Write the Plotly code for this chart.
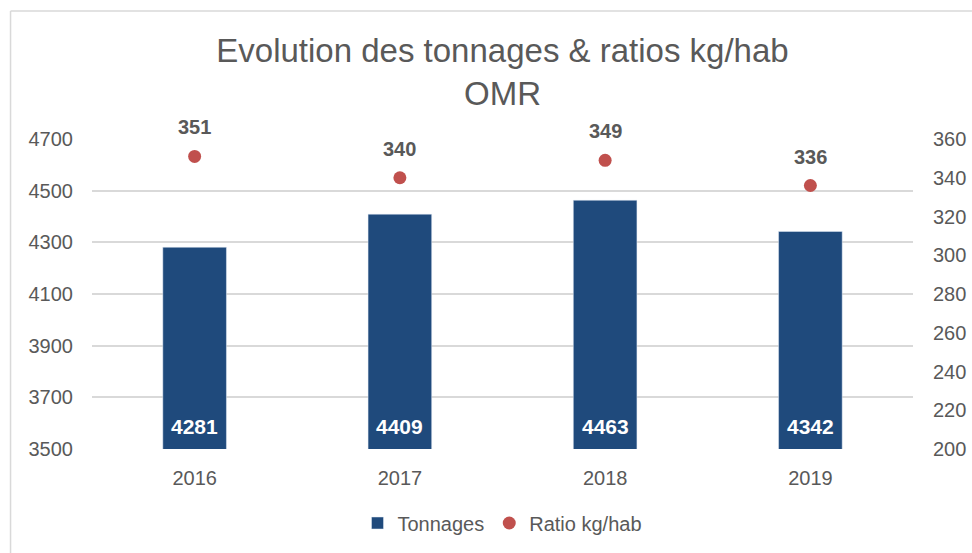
import plotly.graph_objects as go

years = ["2016", "2017", "2018", "2019"]
tonnages = [4281, 4409, 4463, 4342]
ratios = [351, 340, 349, 336]
left_ticks = [3500, 3700, 3900, 4100, 4300, 4500, 4700]
right_ticks = [200, 220, 240, 260, 280, 300, 320, 340, 360]

FONT = "Liberation Sans, Arial, sans-serif"
GRAY = "#595959"
BAR = "#1F4A7C"
DOT = "#C0504D"

xpos = list(range(len(years)))

fig = go.Figure()
fig.add_trace(go.Bar(x=xpos, y=tonnages, name="Tonnages", marker_color=BAR,
                     width=0.31, yaxis="y"))
fig.add_trace(go.Scatter(x=xpos, y=ratios, name="Ratio kg/hab", mode="markers",
                         marker=dict(color=DOT, size=13), yaxis="y2"))

annotations = []
for i, t in zip(xpos, tonnages):
    annotations.append(dict(x=i, y=left_ticks[0], xref="x", yref="y", text=f"<b>{t}</b>",
                            showarrow=False, yshift=23, yanchor="middle",
                            font=dict(family=FONT, size=21, color="white")))
for i, r in zip(xpos, ratios):
    annotations.append(dict(x=i, y=r, xref="x", yref="y2", text=f"<b>{r}</b>",
                            showarrow=False, yshift=29, yanchor="middle",
                            font=dict(family=FONT, size=20, color=GRAY)))

L, R = 91.5, 913
T, B = 139, 449
pw, ph = R - L, B - T
def px(x): return (x - L) / pw
def py(y): return (B - y) / ph

shapes = [
    dict(type="line", xref="paper", yref="paper", x0=px(10), x1=px(972), y0=py(11), y1=py(11),
         line=dict(color="#D9D9D9", width=1.5)),
    dict(type="line", xref="paper", yref="paper", x0=px(10), x1=px(10), y0=py(11), y1=py(553),
         line=dict(color="#D9D9D9", width=1.5)),
]

fig.update_layout(
    width=972, height=553,
    margin=dict(l=L, r=972 - R, t=T, b=553 - B, autoexpand=False),
    paper_bgcolor="white", plot_bgcolor="white",
    font=dict(family=FONT, color=GRAY, size=20),
    title=dict(text="Evolution des tonnages & ratios kg/hab<br>OMR", x=0.5, xref="paper",
               xanchor="center", y=1 - 62 / 553, yanchor="top",
               font=dict(family=FONT, size=33, color=GRAY)),
    xaxis=dict(range=[-0.5, len(years) - 0.5], tickvals=xpos, ticktext=years, automargin=False,
               showgrid=False, showline=False, zeroline=False, ticks="",
               ticklabelstandoff=15, tickfont=dict(size=20, color=GRAY)),
    yaxis=dict(range=[3500, 4700], tickvals=left_ticks, showgrid=True, gridcolor="#D9D9D9",
               gridwidth=1.5, zeroline=False, showline=False, ticklabelstandoff=18,
               automargin=False, tickfont=dict(size=20, color=GRAY)),
    yaxis2=dict(range=[200, 360], tickvals=right_ticks, overlaying="y", side="right",
                showgrid=False, zeroline=False, showline=False, ticklabelstandoff=19,
                automargin=False, tickfont=dict(size=20, color=GRAY)),
    legend=dict(orientation="h", x=0.5, xanchor="center", y=py(523), yanchor="middle",
                font=dict(size=20, color=GRAY), itemwidth=30),
    annotations=annotations,
    shapes=shapes,
    showlegend=True,
)

fig.write_html("out.html", config={"displayModeBar": False},
               post_script="document.body.style.margin='0';")
